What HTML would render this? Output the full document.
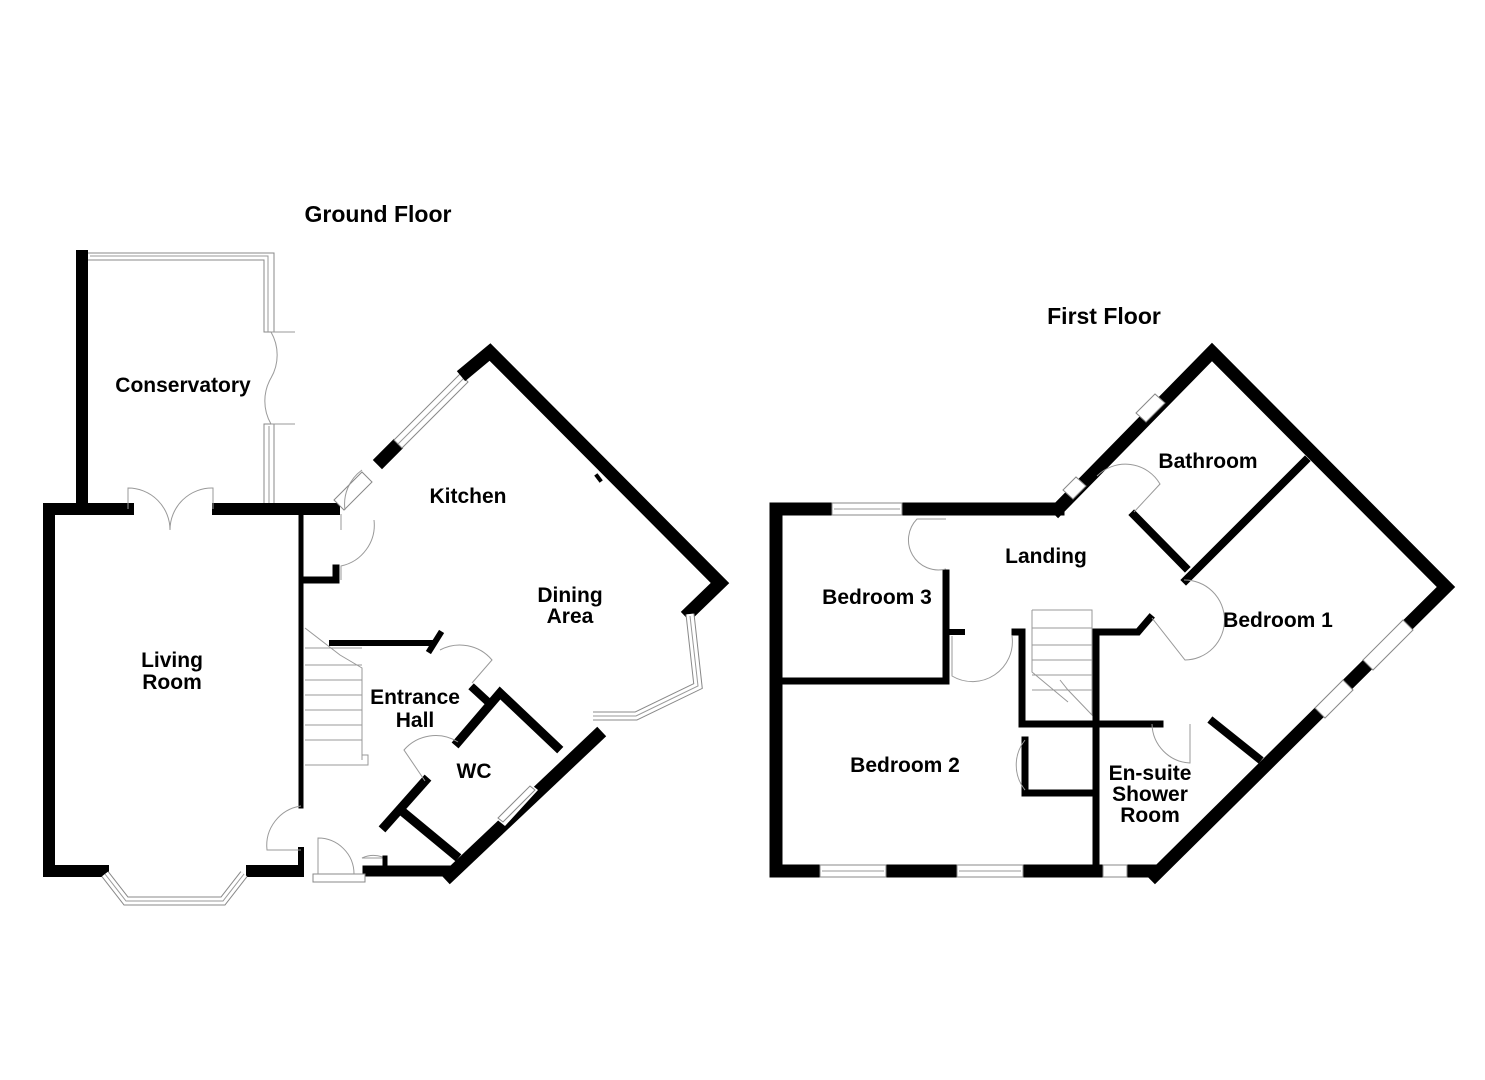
<!DOCTYPE html>
<html><head><meta charset="utf-8"><style>
html,body{margin:0;padding:0;background:#fff;}
svg{display:block;}
text{font-family:"Liberation Sans",Arial,sans-serif;font-weight:bold;font-size:21px;fill:#000;text-anchor:middle;}
text.h{font-size:23px;}
.w{stroke:#000;stroke-linecap:square;fill:none;}
.t{stroke:#999;stroke-width:1;fill:none;}
.win{fill:#fff;stroke:#888;stroke-width:1;}
</style></head><body>
<svg width="1485" height="1080" viewBox="0 0 1485 1080" xmlns="http://www.w3.org/2000/svg">
<rect width="1485" height="1080" fill="#fff"/>
<text class="h" x="378" y="222">Ground Floor</text>
<text class="h" x="1104" y="324">First Floor</text>

<!-- ===== GROUND FLOOR ===== -->
<line class="w" x1="82" y1="256" x2="82" y2="506" stroke-width="12"/>
<polyline class="win" points="88,253 274,253 274,332 264,332 264,260 88,260"/>
<polyline class="t" points="90,256 268,256 268,332"/>
<rect class="win" x="264" y="424" width="10" height="86"/>
<line class="t" x1="269" y1="426" x2="269" y2="508"/>
<path class="t" d="M271,332 A46,46 0 0 1 271,378 M271,378 A46,46 0 0 0 271,424 M271,332 H295 M271,424 H295"/>
<polyline class="w" points="128,509 49,509 49,871 103,871" stroke-width="12"/>
<line class="w" x1="218" y1="509" x2="334" y2="509" stroke-width="12"/>
<line class="w" x1="252" y1="871" x2="298" y2="871" stroke-width="12"/>
<path class="t" d="M128,509 V488 A42,42 0 0 1 170,530 M213,509 V488 A42,42 0 0 0 170,530"/>
<polyline fill="none" stroke="#888" stroke-width="9" points="105,874 126,901 223,901 244,874"/>
<polyline fill="none" stroke="#fff" stroke-width="7" points="105,874 126,901 223,901 244,874"/>
<polyline fill="none" stroke="#999" stroke-width="1" points="105,874 126,901 223,901 244,874"/>
<line class="w" x1="301" y1="515" x2="301" y2="806" stroke-width="5"/>
<line class="w" x1="301" y1="850" x2="301" y2="872" stroke-width="6"/>
<polyline class="w" points="304,580 336,580 336,568" stroke-width="7"/>
<path class="t" d="M301,806 A40,40 0 0 0 267,850 H301"/>
<line class="w" x1="368" y1="871" x2="450" y2="871" stroke-width="11"/>
<rect class="win" x="313" y="874" width="52" height="8"/>
<path class="t" d="M318,874 V838 A36,36 0 0 1 354,874"/>
<path class="t" d="M385,858 A28,28 0 0 0 362,858 H385"/>
<line class="w" x1="385" y1="858" x2="385" y2="866" stroke-width="5"/>
<line class="w" x1="382" y1="460" x2="394" y2="448" stroke-width="13"/>
<polygon class="win" points="394,440 460,374 468,382 402,448"/>
<line class="t" x1="398" y1="444" x2="464" y2="378"/>
<polyline class="w" points="466,372 490,352 720,583 690,612" stroke-width="13"/>
<line class="w" x1="597" y1="476" x2="600" y2="480" stroke-width="4"/>
<polyline fill="none" stroke="#888" stroke-width="9" points="690,614 698,686 636,716 593,716"/>
<polyline fill="none" stroke="#fff" stroke-width="7" points="690,614 698,686 636,716 593,716"/>
<polyline fill="none" stroke="#999" stroke-width="1" points="690,616 698,686 636,716 593,716"/>
<polyline class="w" points="597,736 450,875" stroke-width="13"/>
<polygon fill="#fff" points="495,818 528,782 538,790 505,826"/>
<polygon class="win" points="498,818 530,786 535,790 503,822"/>
<polygon class="win" points="334,500 362,472 372,482 344,510"/>
<path class="t" d="M345,510 A42,42 0 0 1 362,470 M341,514 V530 M341,580 V566 A42,42 0 0 0 374,520"/>
<path class="t" d="M305,628 L340,655 L362,668 V760 M305,648 H362 M305,665 H362 M305,680 H362 M305,695 H362 M305,710 H362 M305,725 H362 M305,740 H362 M305,765 H368 V755 H362"/>
<line class="w" x1="332" y1="643" x2="430" y2="643" stroke-width="6"/>
<line class="w" x1="430" y1="650" x2="440" y2="634" stroke-width="6"/>
<path class="t" d="M440,650 A42,42 0 0 1 492,660 L472,683"/>
<polyline class="w" points="458,742 500,693 557,747" stroke-width="9"/>
<line class="w" x1="474" y1="689" x2="487" y2="701" stroke-width="8"/>
<line class="w" x1="425" y1="781" x2="385" y2="826" stroke-width="9"/>
<line class="w" x1="403" y1="812" x2="455" y2="855" stroke-width="9"/>
<path class="t" d="M458,742 A42,42 0 0 0 404,750 L425,781"/>
<text x="415" y="704">Entrance</text><text x="415" y="727">Hall</text>
<text x="474" y="778">WC</text>
<text x="183" y="392">Conservatory</text>
<text x="172" y="667">Living</text><text x="172" y="689">Room</text>
<text x="468" y="503">Kitchen</text>
<text x="570" y="602">Dining</text><text x="570" y="623">Area</text>

<!-- ===== FIRST FLOOR ===== -->
<polyline class="w" points="1058,509 776,509 776,871 1155,871" stroke-width="13"/>
<polyline class="w" points="1058,509 1212,352 1446,587 1155,875" stroke-width="13"/>
<rect class="win" x="832" y="503" width="70" height="12"/><line class="t" x1="834" y1="509" x2="900" y2="509"/>
<rect class="win" x="820" y="865" width="66" height="12"/><line class="t" x1="822" y1="871" x2="884" y2="871"/>
<rect class="win" x="957" y="865" width="66" height="12"/><line class="t" x1="959" y1="871" x2="1021" y2="871"/>
<rect class="win" x="1103" y="865" width="24" height="12"/>
<polygon class="win" points="1063,490 1076,477 1086,486 1073,499"/>
<polygon class="win" points="1136,413 1155,394 1165,403 1146,422"/>
<polygon class="win" points="1363,660 1403,620 1413,630 1373,670"/>
<polygon class="win" points="1315,708 1343,680 1353,690 1325,718"/>
<line class="w" x1="1305" y1="461" x2="1186" y2="580" stroke-width="8"/>
<line class="w" x1="1134" y1="515" x2="1185" y2="567" stroke-width="8"/>
<polyline class="w" points="946,573 946,681 783,681" stroke-width="7"/>
<line class="w" x1="950" y1="632" x2="962" y2="632" stroke-width="6"/>
<polyline class="w" points="1015,632 1022,632 1022,724 1160,724" stroke-width="7"/>
<polyline class="w" points="1096,865 1096,632 1138,632 1150,618" stroke-width="7"/>
<polyline class="w" points="1025,740 1025,793 1092,793" stroke-width="7"/>
<line class="w" x1="1213" y1="722" x2="1258" y2="758" stroke-width="8"/>
<path class="t" d="M1032,610 H1092 V715 L1068,690 L1060,680 M1032,610 V672 L1068,702 M1032,628 H1092 M1032,645 H1092 M1032,660 H1092 M1032,675 H1092 M1032,690 H1092"/>
<path class="t" d="M946,519 H917 A30,30 0 0 0 946,569 M952,636 V676 A40,40 0 0 0 1012,636 M1152,618 L1185,660 A40,40 0 0 0 1184,580 M1152,724 A40,40 0 0 0 1190,763 V724 M1025,740 A40,40 0 0 0 1025,790 M1097,476 A40,40 0 0 1 1160,484 L1134,512"/>
<text x="1046" y="563">Landing</text>
<text x="877" y="604">Bedroom 3</text>
<text x="1208" y="468">Bathroom</text>
<text x="1278" y="627">Bedroom 1</text>
<text x="905" y="772">Bedroom 2</text>
<text x="1150" y="780">En-suite</text><text x="1150" y="801">Shower</text><text x="1150" y="822">Room</text>
</svg>
</body></html>
